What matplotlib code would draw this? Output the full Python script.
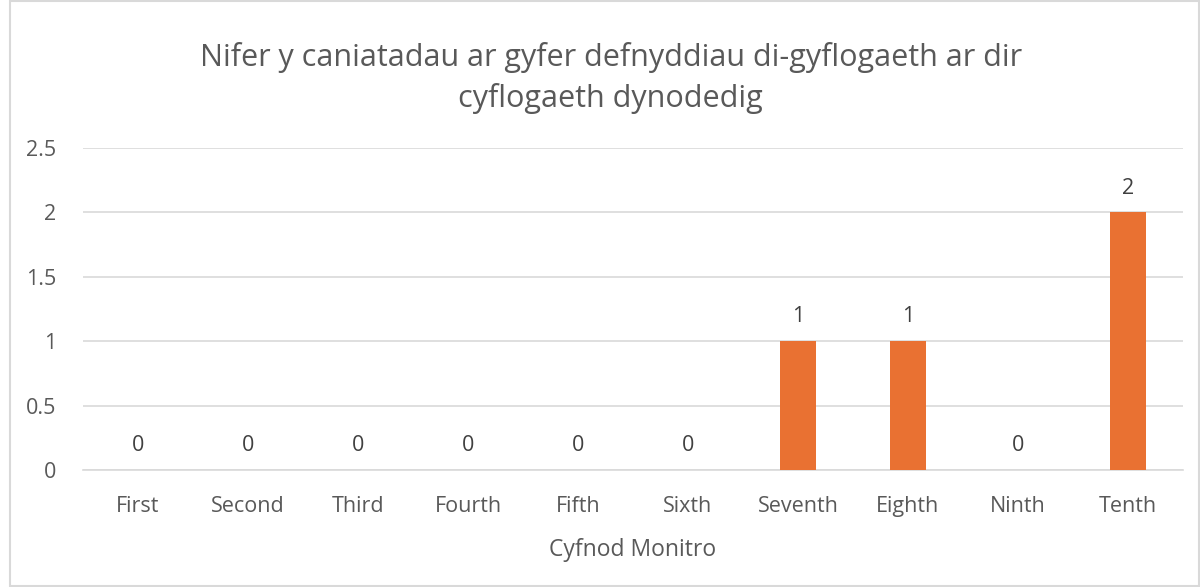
import matplotlib.pyplot as plt
import numpy as np

plt.rcParams['font.family'] = ['Open Sans', 'DejaVu Sans']

categories = ["First", "Second", "Third", "Fourth", "Fifth",
              "Sixth", "Seventh", "Eighth", "Ninth", "Tenth"]
values = [0, 0, 0, 0, 0, 0, 1, 1, 0, 2]
y_ticks = [0, 0.5, 1, 1.5, 2, 2.5]
y_tick_labels = ["0", "0.5", "1", "1.5", "2", "2.5"]

title = "Nifer y caniatadau ar gyfer defnyddiau di-gyflogaeth ar dir\ncyflogaeth dynodedig"
x_title = "Cyfnod Monitro"

text_col = '#595959'
bar_col = '#E97132'

fig = plt.figure(figsize=(12, 5.87), dpi=100)
ax = fig.add_axes([83 / 1200, 1 - 470 / 587, 1100 / 1200, 322 / 587])

x = np.arange(len(categories))
bars = ax.bar(x, values, width=0.32, color=bar_col, zorder=3)

for xi, v in zip(x, values):
    ax.annotate(str(v), (xi, v), xytext=(0, 10), textcoords='offset points',
                ha='center', va='bottom', fontsize=15.5, color='#404040')

ax.set_xlim(-0.5, len(categories) - 0.5)
ax.set_ylim(0, 2.5)
ax.set_yticks(y_ticks)
ax.set_yticklabels(y_tick_labels)
ax.set_xticks(x)
ax.set_xticklabels(categories)
ax.tick_params(axis='both', length=0, labelsize=15.5, colors=text_col)
ax.tick_params(axis='x', pad=19)
ax.tick_params(axis='y', pad=19)
ax.grid(axis='y', color='#D9D9D9', linewidth=1.2, zorder=0)
for s in ['top', 'right', 'left']:
    ax.spines[s].set_visible(False)
ax.spines['bottom'].set_color('#D9D9D9')
ax.spines['bottom'].set_linewidth(1.2)

ax.set_xlabel(x_title, fontsize=16.5, color=text_col, labelpad=15)
fig.text(0.509, 1 - 78 / 587, title, ha='center', va='center', fontsize=22,
         color=text_col, linespacing=1.45)

# outer chart frame
fig.patches.append(plt.Rectangle((10 / 1200, 0.002), 1 - 11 / 1200, 0.996,
                                 transform=fig.transFigure, fill=False,
                                 edgecolor='#D9D9D9', linewidth=1.5))

fig.savefig('out.png', dpi=100)
